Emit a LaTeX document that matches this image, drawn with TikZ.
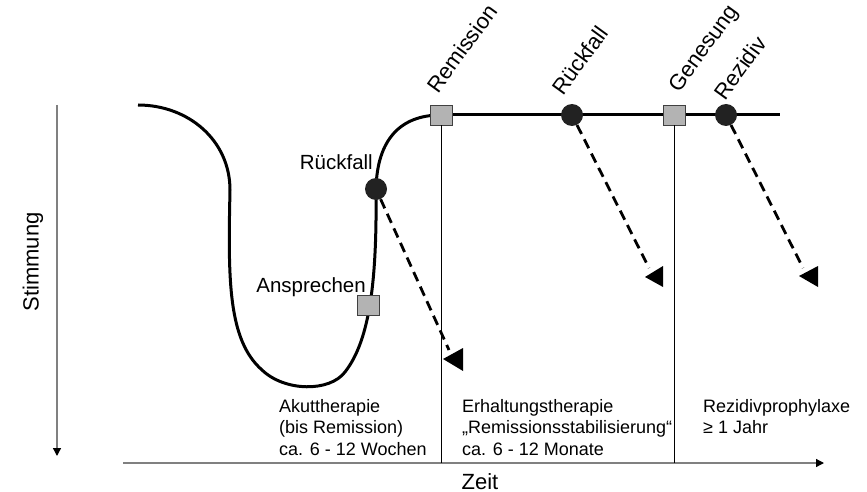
\documentclass[tikz,border=0pt]{standalone}
\usepackage{fontspec}
\setmainfont{Liberation Sans}
\usepackage{tikz}
\usetikzlibrary{arrows.meta,positioning,backgrounds}
\definecolor{boxgray}{HTML}{B3B3B3}
\definecolor{edgegray}{HTML}{404040}
\definecolor{dotblack}{HTML}{222222}
\definecolor{axisgray}{HTML}{808080}
\tikzstyle{phase} = [rectangle, draw=edgegray, fill=boxgray, minimum width=22pt, minimum height=20pt, inner sep=0pt, line width=0.8pt]
\tikzstyle{event} = [circle, fill=dotblack, minimum size=22pt, inner sep=0pt]
\tikzstyle{tag} = [inner sep=0pt, rotate=54, anchor=base west, font=\fontsize{22}{26}\selectfont]
\tikzstyle{lbl} = [inner sep=0pt, anchor=base east, font=\fontsize{20.5}{24}\selectfont]
\tikzstyle{note} = [inner sep=0pt, align=left, anchor=north west, font=\fontsize{18}{21.5}\selectfont]
\tikzstyle{mood} = [line width=3pt]
\tikzstyle{relapse} = [line width=2.8pt, dash pattern=on 10pt off 6pt]
\tikzstyle{divider} = [line width=1pt]
\tikzstyle{axis} = [draw=axisgray, line width=1.3pt, -{Triangle[length=8pt, width=8pt, color=black]}]

\begin{document}
\begin{tikzpicture}[x=1pt, y=-1pt]
		\useasboundingbox (0,0) rectangle (867,492);
		
		\coordinate (Ytop) at (57,105);
		\coordinate (Ybot) at (57,456);
		\coordinate (Xleft) at (123,463);
		\coordinate (Xright) at (824,463);
		
		\draw [axis] (Ytop) -- (Ybot);
		\draw [axis] (Xleft) -- (Xright);
		
		\node (Stimmung) [rotate=90, inner sep=0pt, font=\fontsize{22}{26}\selectfont] at (33,262) {Stimmung};
		
		\node (Zeit) [inner sep=0pt, font=\fontsize{22}{26}\selectfont] at (480,482) {Zeit};
		
		\node (AnsSq) [phase] at (368,305) {};
		
		\node (RueckDotA) [event] at (376,189) {};
		
		\node (RemSq) [phase] at (441,115) {};
		
		\node (RueckDot) [event] at (572,115) {};
		
		\node (GenSq) [phase] at (674,115) {};
		
		\node (RezDot) [event] at (726,115) {};
		
		\coordinate (LineEnd) at (780,115);
		
		\begin{scope}[on background layer]
		\draw [mood] (138,105) .. controls (188,105) and (230,140) .. (230,190)
			.. controls (228,280) and (228,340) .. (262,370)
			.. controls (285,392) and (330,392) .. (345,372)
			.. controls (370,340) and (377,280) .. (RueckDotA.center)
			.. controls (377,140) and (400,115) .. (RemSq.center);
		\draw [mood] (RemSq.center) -- (RueckDot.center) -- (GenSq.center) -- (RezDot.center) -- (LineEnd);
		\end{scope}
		
		\draw [divider] (RemSq.south) -- (RemSq.south |- Xleft);
		\draw [divider] (GenSq.south) -- (GenSq.south |- Xleft);
		
		% relapse arrows
		\coordinate (EndA) at (449,350);
		\coordinate (EndB) at (649,268);
		\coordinate (EndC) at (803,268);
		
		\draw [relapse] (RueckDotA) -- (EndA);
		\draw [relapse] (RueckDot) -- (EndB);
		\draw [relapse] (RezDot) -- (EndC);
		
		\fill (EndA) ++(-6,9) -- ++(20,-11) -- ++(0,23) -- cycle;
		\fill (EndB) ++(-4,9) -- ++(18,-11) -- ++(0,21) -- cycle;
		\fill (EndC) ++(-4,8) -- ++(19,-10) -- ++(0,21) -- cycle;
		
		\node [tag] at ([shift={(-3,-10)}]RemSq.north) {Remission};
		\node [tag] at ([shift={(-9,-7)}]RueckDot.north) {Rückfall};
		\node [tag] at ([shift={(5,-11)}]GenSq.north) {Genesung};
		\node [tag] at ([shift={(-1,-2)}]RezDot.north) {Rezidiv};
		
		\node [lbl] at ([shift={(-3,-20)}]RueckDotA.center) {Rückfall};
		\node [lbl] at ([shift={(-2,-13)}]AnsSq.center) {Ansprechen};
		
		\node (Akut) [note] at (279,399) {Akuttherapie\\(bis Remission)\\ca. 6 - 12 Wochen};
		\node (Erhalt) [note] at (462,399) {Erhaltungstherapie\\„Remissionsstabilisierung“\\ca. 6 - 12 Monate};
		\node (Prophy) [note] at (703,399) {Rezidivprophylaxe\\≥ 1 Jahr};
		
\end{tikzpicture}
\end{document}
